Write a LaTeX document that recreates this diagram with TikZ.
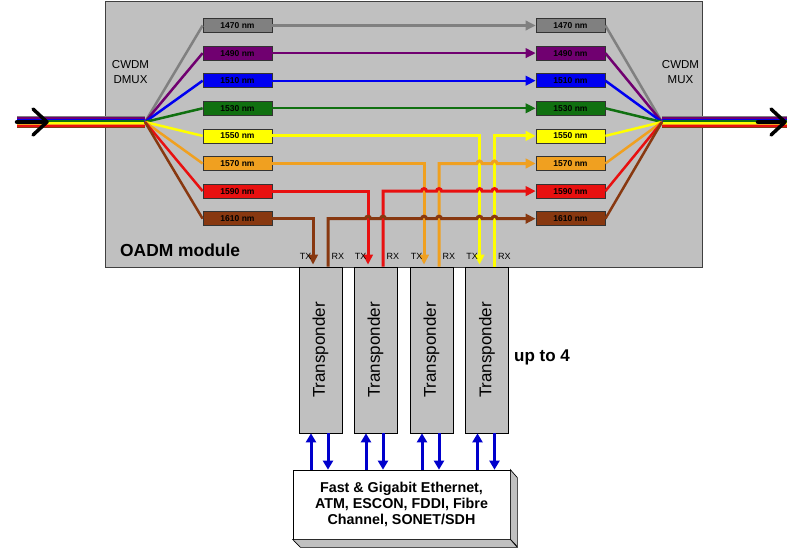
\documentclass[tikz,border=0pt]{standalone}
\usepackage{fontspec}
\setmainfont{Liberation Sans}
\usetikzlibrary{arrows.meta,calc}
\definecolor{c1470}{RGB}{128,128,128}
\definecolor{c1490}{RGB}{112,0,112}
\definecolor{c1510}{RGB}{0,0,240}
\definecolor{c1530}{RGB}{16,112,16}
\definecolor{c1550}{RGB}{255,255,0}
\definecolor{c1570}{RGB}{240,160,32}
\definecolor{c1590}{RGB}{232,16,16}
\definecolor{c1610}{RGB}{136,56,16}
\definecolor{modgray}{RGB}{192,192,192}
\definecolor{linkblue}{RGB}{0,0,204}
\newcommand{\hopat}[2]{-- ($(#1 |- #2)+(-2.5pt,0)$) arc[start angle=180,end angle=0,radius=2.5pt]}
\begin{document}
\begin{tikzpicture}[x=1pt,y=-1pt,
    wl/.style={draw=black!80,line width=0.7pt,minimum width=69pt,minimum height=14pt,inner sep=0pt,font=\fontsize{8.5}{8.5}\selectfont\bfseries},
    trp/.style={draw=black,line width=0.7pt,fill=modgray,minimum width=43pt,minimum height=166pt,inner sep=0pt,font=\fontsize{17}{17}\selectfont},
    trx/.style={inner sep=0pt,font=\fontsize{9}{9}\selectfont},
    wlarrow/.style={-{Triangle[length=10pt,width=9.5pt]}},
    fan/.style={line width=2.5pt},
    thru/.style={line width=2.2pt,wlarrow},
    drop/.style={line width=3pt,wlarrow},
    ethlink/.style={line width=3pt,linkblue,-{Triangle[length=9pt,width=10pt]}},
    stripe/.style={line width=1.6pt}]
  \useasboundingbox (0,0) rectangle (800,549);
  \node[draw=black!75,fill=modgray,line width=0.8pt,minimum width=597pt,minimum height=266pt,anchor=north west,inner sep=0pt] (oadm) at (105,1) {};
  \coordinate (inL) at (17,122);
  \coordinate (chevL) at (47,122);
  \coordinate (dmux) at (145,122);
  \coordinate (mux) at (662,122);
  \coordinate (chevR) at (785,122);
  \coordinate (outR) at (787,122);
  \begin{scope}[stripe]
    \draw[c1470] ([yshift=5.6pt]inL) to ([yshift=5.6pt]dmux);
    \draw[c1490] ([yshift=4pt]inL) to ([yshift=4pt]dmux);
    \draw[c1510] ([yshift=2.4pt]inL) to ([yshift=2.4pt]dmux);
    \draw[c1530] ([yshift=0.8pt]inL) to ([yshift=0.8pt]dmux);
    \draw[c1550] ([yshift=-0.8pt]inL) to ([yshift=-0.8pt]dmux);
    \draw[c1570] ([yshift=-2.4pt]inL) to ([yshift=-2.4pt]dmux);
    \draw[c1590] ([yshift=-4pt]inL) to ([yshift=-4pt]dmux);
    \draw[c1610] ([yshift=-5.6pt]inL) to ([yshift=-5.6pt]dmux);
    \draw[c1470] ([yshift=5.6pt]mux) to ([yshift=5.6pt]outR);
    \draw[c1490] ([yshift=4pt]mux) to ([yshift=4pt]outR);
    \draw[c1510] ([yshift=2.4pt]mux) to ([yshift=2.4pt]outR);
    \draw[c1530] ([yshift=0.8pt]mux) to ([yshift=0.8pt]outR);
    \draw[c1550] ([yshift=-0.8pt]mux) to ([yshift=-0.8pt]outR);
    \draw[c1570] ([yshift=-2.4pt]mux) to ([yshift=-2.4pt]outR);
    \draw[c1590] ([yshift=-4pt]mux) to ([yshift=-4pt]outR);
    \draw[c1610] ([yshift=-5.6pt]mux) to ([yshift=-5.6pt]outR);
  \end{scope}
  \begin{scope}[line cap=round,line join=round]
    \draw[line width=4.5pt] (inL) to ([xshift=-5pt]chevL);
    \draw[line width=3.5pt] ($(chevL)+(-14,-13)$) -- (chevL) -- ($(chevL)+(-14,13)$);
    \draw[line width=4.5pt] ([xshift=-27pt]chevR) to ([xshift=-5pt]chevR);
    \draw[line width=3.5pt] ($(chevR)+(-14,-13)$) -- (chevR) -- ($(chevR)+(-14,13)$);
  \end{scope}
  \draw
    (237.5,25.5) node[wl,fill=c1470] (l1){1470 nm}
    (237.5,53.1) node[wl,fill=c1490] (l2){1490 nm}
    (237.5,80.7) node[wl,fill=c1510] (l3){1510 nm}
    (237.5,108.3) node[wl,fill=c1530] (l4){1530 nm}
    (237.5,135.9) node[wl,fill=c1550] (l5){1550 nm}
    (237.5,163.5) node[wl,fill=c1570] (l6){1570 nm}
    (237.5,191.1) node[wl,fill=c1590] (l7){1590 nm}
    (237.5,218.7) node[wl,fill=c1610] (l8){1610 nm}
    (570.5,25.5) node[wl,fill=c1470] (r1){1470 nm}
    (570.5,53.1) node[wl,fill=c1490] (r2){1490 nm}
    (570.5,80.7) node[wl,fill=c1510] (r3){1510 nm}
    (570.5,108.3) node[wl,fill=c1530] (r4){1530 nm}
    (570.5,135.9) node[wl,fill=c1550] (r5){1550 nm}
    (570.5,163.5) node[wl,fill=c1570] (r6){1570 nm}
    (570.5,191.1) node[wl,fill=c1590] (r7){1590 nm}
    (570.5,218.7) node[wl,fill=c1610] (r8){1610 nm};
  \begin{scope}[fan]
    \draw[c1470] (dmux) to (l1.west);
    \draw[c1490] (dmux) to (l2.west);
    \draw[c1510] (dmux) to (l3.west);
    \draw[c1530] (dmux) to (l4.west);
    \draw[c1550] (dmux) to (l5.west);
    \draw[c1570] (dmux) to (l6.west);
    \draw[c1590] (dmux) to (l7.west);
    \draw[c1610] (dmux) to (l8.west);
    \draw[c1470] (r1.east) to (mux);
    \draw[c1490] (r2.east) to (mux);
    \draw[c1510] (r3.east) to (mux);
    \draw[c1530] (r4.east) to (mux);
    \draw[c1550] (r5.east) to (mux);
    \draw[c1570] (r6.east) to (mux);
    \draw[c1590] (r7.east) to (mux);
    \draw[c1610] (r8.east) to (mux);
  \end{scope}
  \begin{scope}[thru]
    \draw[c1470] (l1) to (r1);
    \draw[c1490] (l2) to (r2);
    \draw[c1510] (l3) to (r3);
    \draw[c1530] (l4) to (r4);
  \end{scope}
  \draw
    (320.5,350) node[trp] (t1){\rotatebox{90}{Transponder}}
    (375.5,350) node[trp] (t2){\rotatebox{90}{Transponder}}
    (431.5,350) node[trp] (t3){\rotatebox{90}{Transponder}}
    (487,350) node[trp] (t4){\rotatebox{90}{Transponder}};
  \coordinate (tx1) at ([xshift=-7.5pt,yshift=2pt]t1.north);
  \coordinate (rx1) at ([xshift=7.5pt]t1.north);
  \coordinate (tx2) at ([xshift=-7.5pt,yshift=2pt]t2.north);
  \coordinate (rx2) at ([xshift=7.5pt]t2.north);
  \coordinate (tx3) at ([xshift=-7.5pt,yshift=2pt]t3.north);
  \coordinate (rx3) at ([xshift=7.5pt]t3.north);
  \coordinate (tx4) at ([xshift=-7.5pt,yshift=2pt]t4.north);
  \coordinate (rx4) at ([xshift=7.5pt]t4.north);
  \begin{scope}[drop]
    \draw[c1550] (l5.east) -| (tx4);
    \draw[c1570] (l6.east) -| (tx3);
    \draw[c1590] (l7.east) -| (tx2);
    \draw[c1610] (l8.east) -| (tx1);
    \draw[c1550] (rx4) |- (r5.west);
    \draw[c1570] (rx3) -- (rx3 |- r6.west) \hopat{tx4}{r6.west} \hopat{rx4}{r6.west} -- (r6.west);
    \draw[c1590] (rx2) -- (rx2 |- r7.west) \hopat{tx3}{r7.west} \hopat{rx3}{r7.west} \hopat{tx4}{r7.west} \hopat{rx4}{r7.west} -- (r7.west);
    \draw[c1610] (rx1) -- (rx1 |- r8.west) \hopat{tx2}{r8.west} \hopat{rx2}{r8.west} \hopat{tx3}{r8.west} \hopat{rx3}{r8.west} \hopat{tx4}{r8.west} \hopat{rx4}{r8.west} -- (r8.west);
  \end{scope}
  \draw
    ([xshift=-1.5pt,yshift=8pt]tx1) node[trx,anchor=east] (txl1){TX}
    ([xshift=3.5pt,yshift=10pt]rx1) node[trx,anchor=west] (rxl1){RX}
    ([xshift=-1.5pt,yshift=8pt]tx2) node[trx,anchor=east] (txl2){TX}
    ([xshift=3.5pt,yshift=10pt]rx2) node[trx,anchor=west] (rxl2){RX}
    ([xshift=-1.5pt,yshift=8pt]tx3) node[trx,anchor=east] (txl3){TX}
    ([xshift=3.5pt,yshift=10pt]rx3) node[trx,anchor=west] (rxl3){RX}
    ([xshift=-1.5pt,yshift=8pt]tx4) node[trx,anchor=east] (txl4){TX}
    ([xshift=3.5pt,yshift=10pt]rx4) node[trx,anchor=west] (rxl4){RX};
  \node[draw=black,line width=0.7pt,fill=white,minimum width=217pt,minimum height=69pt,inner sep=0pt,align=center,font=\fontsize{14.3}{16}\selectfont\bfseries] (eth) at (401.5,504.5) {Fast \& Gigabit Ethernet,\\ATM, ESCON, FDDI, Fibre\\Channel, SONET/SDH};
  \filldraw[fill=modgray,line width=0.7pt] (eth.north east) -- ++(7,8) -- ++(0,69) -- (eth.south east) -- cycle;
  \filldraw[fill=modgray,line width=0.7pt] (eth.south west) -- (eth.south east) -- ++(7,8) -- ++(-217,0) -- cycle;
  \begin{scope}[ethlink]
    \draw ([xshift=-9.5pt]t1.south |- eth.north) to ([xshift=-9.5pt]t1.south);
    \draw ([xshift=7.5pt]t1.south) to ([xshift=7.5pt]t1.south |- eth.north);
    \draw ([xshift=-9.5pt]t2.south |- eth.north) to ([xshift=-9.5pt]t2.south);
    \draw ([xshift=7.5pt]t2.south) to ([xshift=7.5pt]t2.south |- eth.north);
    \draw ([xshift=-9.5pt]t3.south |- eth.north) to ([xshift=-9.5pt]t3.south);
    \draw ([xshift=7.5pt]t3.south) to ([xshift=7.5pt]t3.south |- eth.north);
    \draw ([xshift=-9.5pt]t4.south |- eth.north) to ([xshift=-9.5pt]t4.south);
    \draw ([xshift=7.5pt]t4.south) to ([xshift=7.5pt]t4.south |- eth.north);
  \end{scope}
  \draw
    (130.5,72.5) node[align=center,font=\fontsize{11.5}{15}\selectfont] (dmuxl){CWDM\\DMUX}
    (680.5,72.5) node[align=center,font=\fontsize{11.5}{15}\selectfont] (muxl){CWDM\\MUX}
    (120,256) node[anchor=base west,inner sep=0pt,font=\fontsize{17.4}{17.4}\selectfont\bfseries] (oadml){OADM module}
    (514,361) node[anchor=base west,inner sep=0pt,font=\fontsize{17}{17}\selectfont\bfseries] (upto){up to 4};
\end{tikzpicture}
\end{document}
